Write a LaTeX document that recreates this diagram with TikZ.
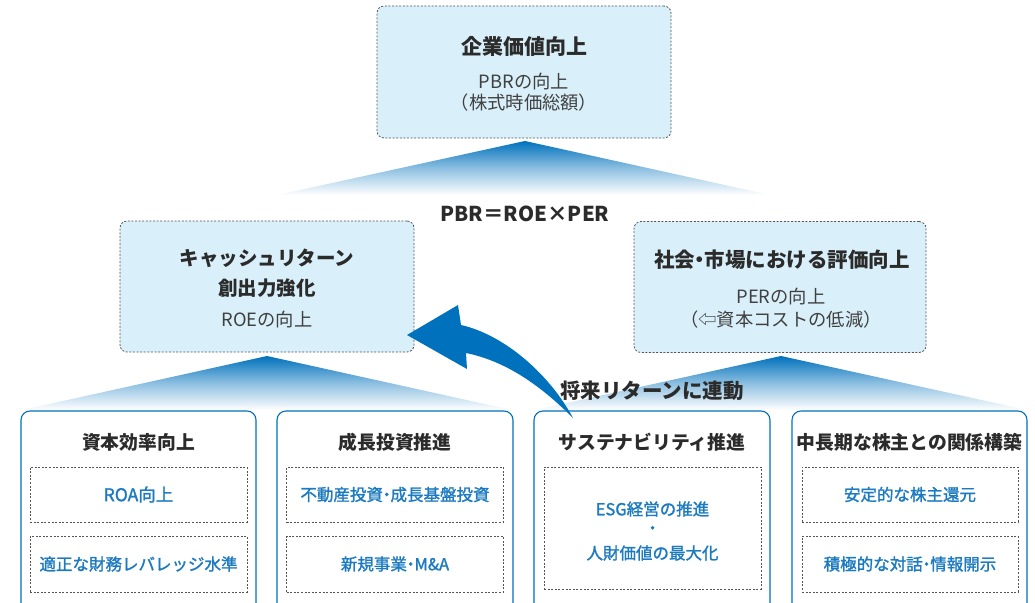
\documentclass[tikz,border=0pt]{standalone}
\usepackage{fontspec}
\setmainfont{Noto Sans CJK JP}
\newfontfamily\jpmed{Noto Sans CJK JP}[FakeBold=1.4]
\newcommand{\nkg}{\hspace{-0.27em}・\hspace{-0.27em}}
\begin{document}
\definecolor{mainblue}{HTML}{0071BC}
\definecolor{textblue}{HTML}{1B7AC0}
\definecolor{lightblue}{HTML}{D9F0FA}
\definecolor{dashgray}{HTML}{555555}
\definecolor{darktext}{HTML}{2B2B2B}
\begin{tikzpicture}[x=1pt,y=-1pt,
  lbbox/.style={draw=dashgray, dash pattern=on 2pt off 1.6pt, line width=0.8pt, fill=lightblue, rounded corners=7pt, inner sep=0pt},
  bbox/.style={draw=mainblue, line width=1.1pt, rounded corners=9pt, fill=white, inner sep=0pt},
  ibox/.style={draw=dashgray, dash pattern=on 2pt off 1.6pt, line width=0.8pt, fill=white, inner sep=0pt},
  ttl/.style={font=\bfseries\fontsize{19.5}{23}\selectfont, text=darktext, inner sep=0pt},
  sub/.style={font=\fontsize{18.3}{22}\selectfont, text=darktext!90, inner sep=0pt},
  btl/.style={font=\bfseries\fontsize{18.8}{22}\selectfont, text=darktext, inner sep=0pt},
  itx/.style={font=\jpmed\fontsize{16.5}{20}\selectfont, text=textblue, inner sep=0pt},
  tri/.style={top color=mainblue, bottom color=white, middle color=mainblue!45!white}
]
\useasboundingbox (0,0) rectangle (1035,602);

% pyramids (gradient triangles)
\shade[tri] (525,141) -- (770,195) -- (277,195) -- cycle;
\shade[tri] (267,356) -- (512,410) -- (22,410) -- cycle;
\shade[tri] (781,356) -- (1027,410) -- (535,410) -- cycle;

% top box
\node[lbbox, minimum width=294pt, minimum height=132pt] (top) at (524,72) {};
\node[ttl, font=\bfseries\fontsize{21}{25}\selectfont] (topT) at (524,46) {企業価値向上};
\node[sub] (topS1) at (524,82) {PBRの向上};
\node[sub] (topS2) at (524,103) {（株式時価総額）};

\node[font=\bfseries\fontsize{20.5}{24}\selectfont, text=darktext, inner sep=0pt] (eq) at (525,214) {PBR＝ROE×PER};

% middle boxes
\node[lbbox, minimum width=294pt, minimum height=131pt] (roe) at (267,286.5) {};
\node[ttl] (roeT1) at (267,258) {キャッシュリターン};
\node[ttl] (roeT2) at (267,288) {創出力強化};
\node[sub] (roeS) at (267,320) {ROEの向上};

\node[lbbox, minimum width=292pt, minimum height=131pt] (per) at (780,287) {};
\node[ttl, font=\bfseries\fontsize{20.5}{24}\selectfont] (perT) at (782,260) {社会\nkg 市場における評価向上};
\node[sub] (perS1) at (781,297) {PERの向上};
\node[sub] (perS2) at (781,320) {（⇦資本コストの低減）};

% bottom boxes
\node[bbox, minimum width=235pt, minimum height=212pt] (b1) at (138.5,517) {};
\node[bbox, minimum width=236pt, minimum height=212pt] (b2) at (395,517) {};
\node[bbox, minimum width=236pt, minimum height=212pt] (b3) at (652,517) {};
\node[bbox, minimum width=235pt, minimum height=212pt] (b4) at (909.5,517) {};

\node[btl] (b1T) at (138.5,442) {資本効率向上};
\node[btl] (b2T) at (395,442) {成長投資推進};
\node[btl] (b3T) at (652,442) {サステナビリティ推進};
\node[btl] (b4T) at (909.5,442) {中長期な株主との関係構築};

\node[ibox, minimum width=217pt, minimum height=55pt] (b1a) at (138.5,494.5) {};
\node[ibox, minimum width=217pt, minimum height=56pt] (b1b) at (138.5,564) {};
\node[itx, font=\jpmed\fontsize{17.5}{20}\selectfont] at (b1a) {ROA向上};
\node[itx] at (b1b) {適正な財務レバレッジ水準};

\node[ibox, minimum width=217pt, minimum height=55pt] (b2a) at (395,494.5) {};
\node[ibox, minimum width=217pt, minimum height=56pt] (b2b) at (395,564) {};
\node[itx] at (b2a) {不動産投資\nkg 成長基盤投資};
\node[itx] at (b2b) {新規事業\nkg M\&A};

\node[ibox, minimum width=217pt, minimum height=122pt] (b3a) at (652.5,528) {};
\node[itx] (b3t1) at (652.5,509) {ESG経営の推進};
\node[itx] (b3t2) at (652.5,530) {・};
\node[itx] (b3t3) at (652.5,553) {人財価値の最大化};

\node[ibox, minimum width=216pt, minimum height=55pt] (b4a) at (910,494.5) {};
\node[ibox, minimum width=216pt, minimum height=56pt] (b4b) at (910,564) {};
\node[itx] at (b4a) {安定的な株主還元};
\node[itx] at (b4b) {積極的な対話\nkg 情報開示};

% curved arrow from sustainability box to ROE box
\coordinate (tail) at (573,418);
\coordinate (tip) at (407,335);
\fill[mainblue] (tip) -- (458,305) -- (461,325)
  .. controls (505,335) and (550,375) .. (tail)
  .. controls (545,390) and (510,362) .. (466,353)
  -- (467,369) -- cycle;

\node[font=\bfseries\fontsize{20.5}{24}\selectfont, text=darktext, inner sep=0pt] (link) at (652,391) {将来リターンに連動};
\end{tikzpicture}
\end{document}
